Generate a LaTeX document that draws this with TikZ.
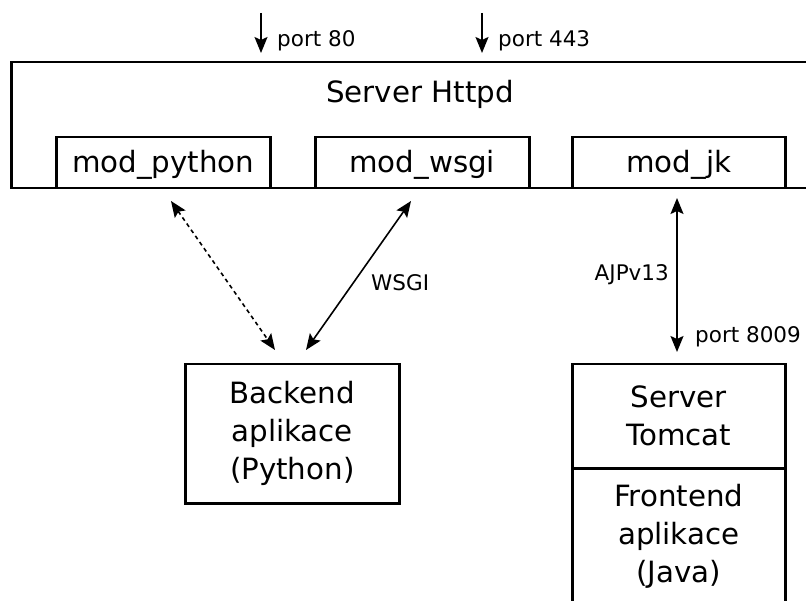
\documentclass[tikz,border=0pt]{standalone}
\usepackage{fontspec}
\setmainfont{DejaVu Sans}
\usetikzlibrary{arrows.meta}
\begin{document}
\begin{tikzpicture}[x=1pt,y=-1pt,
  >={Stealth[length=16pt,width=13pt,inset=3pt]},
  box/.style={draw=black, line width=2.5pt, inner sep=0pt, anchor=north west},
  big/.style={font=\fontsize{29.3}{38}\selectfont, align=center},
  modbox/.style={box, big, text height=22pt, text depth=3pt, minimum height=51pt},
  lbl/.style={font=\fontsize{21.5}{26}\selectfont, inner sep=0pt},
  conn/.style={line width=1.6pt, <->},
  inarrow/.style={line width=1.6pt, ->}
]
\useasboundingbox (0,0) rectangle (806,601);
\begin{scope}
\clip (0,0) rectangle (806,601);
% Httpd server
\node[box, minimum width=815pt, minimum height=126pt] (httpd) at (10,61) {};
\node[big, anchor=base] (httpdtitle) at (420,103) {Server Httpd};
\node[modbox, minimum width=214pt] (mpy) at (55,136) {mod\_python};
\node[modbox, minimum width=214pt] (mwsgi) at (314,136) {mod\_wsgi};
\node[modbox, minimum width=213pt] (mjk) at (571,136) {mod\_jk};
% Backend
\node[box, big, minimum width=214pt, minimum height=139pt] (backend) at (184,363) {Backend\\aplikace\\(Python)};
% Tomcat
\node[box, big, minimum width=213pt, minimum height=104pt] (tomcat) at (571,363) {Server\\Tomcat};
\node[box, big, minimum width=213pt, minimum height=136pt] (frontend) at (571,467) {Frontend\\aplikace\\(Java)};
\end{scope}
% port arrows
\coordinate (p80a) at (261,13);
\coordinate (p80b) at (261,53);
\coordinate (p443a) at (482,13);
\coordinate (p443b) at (482,53);
\draw[inarrow] (p80a) -- (p80b);
\draw[inarrow] (p443a) -- (p443b);
\node[lbl, anchor=base west] (l80) at (277,47) {port 80};
\node[lbl, anchor=base west] (l443) at (498,47) {port 443};
% connectors
\coordinate (dA) at (171,201);
\coordinate (dB) at (275,350);
\coordinate (wA) at (411,201);
\coordinate (wB) at (306,350);
\coordinate (jA) at (677,198);
\coordinate (jB) at (677,352);
\draw[conn, dash pattern=on 4pt off 3.5pt] (dA) -- (dB);
\draw[conn] (wA) -- (wB);
\draw[conn] (jA) -- (jB);
\node[lbl, anchor=base west] (lwsgi) at (371,291) {WSGI};
\node[lbl, anchor=base east] (lajp) at (669,281) {AJPv13};
\node[lbl, anchor=base west] (l8009) at (695,343) {port 8009};
\end{tikzpicture}
\end{document}
